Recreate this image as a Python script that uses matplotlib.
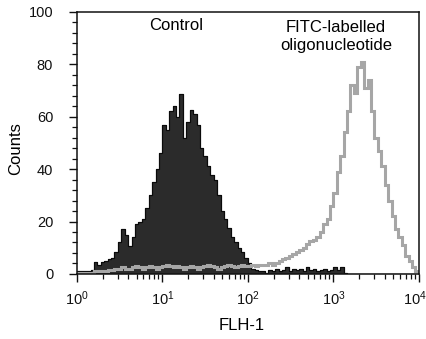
import numpy as np
import matplotlib
matplotlib.use("Agg")
import matplotlib.pyplot as plt
from matplotlib.ticker import MultipleLocator, LogLocator, FixedLocator
import matplotlib.transforms as mtrans

plt.rcParams['font.family'] = ['Liberation Sans', 'DejaVu Sans']

# log10 bin width 0.04 over four decades (100 channels)
bin_log_width = 0.04
n_bins = 100

control_counts = [
    1, 1, 1, 1.2, 1.5, 4.5, 3.5, 4.5, 5, 5.5,
    6, 8.5, 12, 17, 15, 10.5, 14, 19, 20, 21,
    25, 30, 35, 40, 46, 57, 55, 62, 64, 60,
    68.5, 52, 58, 62.5, 61, 57, 48, 45, 41, 37.8,
    36, 30, 24, 21, 17.5, 14, 12, 10, 8.5, 6,
    4, 2, 1.5, 1, 1, 0.5, 1.5, 1, 2, 1,
    1.5, 2.5, 1, 2, 1.5, 2, 1, 2.5, 1.5, 2,
    1, 1.5, 2, 1, 1.5, 2.5, 1.5, 2.5, 0.5, 0,
    0, 0, 0, 0, 0, 0, 0, 0, 0, 0,
    0, 0, 0, 0, 0, 0, 0, 0, 0, 0,
]

fitc_counts = [
    0.3, 0.3, 0.5, 0.5, 0.5, 1, 1, 1.2, 1, 1.5,
    1.5, 2, 2, 2.5, 2, 2, 2.5, 3, 2.5, 2,
    2.5, 3, 2.5, 2, 2.5, 3, 3.5, 3, 2.5, 3,
    2.5, 2, 2.5, 3, 2.5, 2, 2.5, 3, 3.5, 3,
    2.5, 2, 2.5, 3, 3.5, 3, 2.5, 3, 3.5, 3,
    3, 3.5, 3, 3.5, 3.5, 3.5, 4, 3.5, 4, 5,
    5.5, 6, 7, 7.5, 8.5, 9, 10, 11.5, 12.5, 13,
    14, 16, 19, 21, 26, 31, 39, 45, 54, 62,
    72, 69, 79, 81, 71, 74, 62, 52, 47, 41,
    34, 28, 22, 17, 14, 11, 7, 5, 2.5, 1,
]

x_tick_values = [1, 10, 100, 1000, 10000]
x_tick_labels = [r'$\mathregular{10^0}$', r'$\mathregular{10^1}$',
                 r'$\mathregular{10^2}$', r'$\mathregular{10^3}$',
                 r'$\mathregular{10^4}$']
y_tick_values = [0, 20, 40, 60, 80, 100]

edges = 10 ** (np.arange(n_bins + 1) * bin_log_width)

fig = plt.figure(figsize=(4.27, 3.39), dpi=100)
ax = fig.add_axes([0.180, 0.192, 0.801, 0.773])

ax.stairs(control_counts, edges, fill=True, facecolor='#2b2b2b',
          edgecolor='#111111', linewidth=0.8, baseline=0)
ax.stairs(control_counts, edges, color='#0a0a0a', linewidth=0.8)
ax.stairs(fitc_counts, edges, color='#a6a6a6', linewidth=2.2)

ax.set_xscale('log')
ax.set_xlim(1, 10000)
ax.set_ylim(0, 100)

ax.xaxis.set_major_locator(FixedLocator(x_tick_values))
ax.set_xticklabels(x_tick_labels)
ax.xaxis.set_minor_locator(LogLocator(base=10, subs=np.arange(2, 10)))
ax.xaxis.set_minor_formatter(plt.NullFormatter())
ax.set_yticks(y_tick_values)
ax.yaxis.set_minor_locator(MultipleLocator(4))

ax.tick_params(which='major', direction='out', length=6, width=1.0,
               labelsize=10.5, colors='#111111')
ax.tick_params(which='minor', direction='out', length=3.5, width=0.9,
               colors='#111111')
ax.tick_params(axis='x', which='major', pad=5)
ax.tick_params(axis='y', which='major', pad=11)
for s in ax.spines.values():
    s.set_linewidth(1.1)
    s.set_color('#111111')

# nudge the last x tick label inward so it stays inside the figure
last = ax.get_xticklabels()[-1]
last.set_transform(last.get_transform() +
                   mtrans.ScaledTranslation(-4 / 100, 0, fig.dpi_scale_trans))

fig.text(16 / 427, 1 - 149 / 339, 'Counts', rotation=90, ha='center',
         va='center', fontsize=12)
fig.text(242 / 427, 1 - 325 / 339, 'FLH-1', ha='center', va='center',
         fontsize=12)

ax.text(0.289, 0.947, 'Control', transform=ax.transAxes, ha='center',
        va='center', fontsize=12)
ax.text(0.757, 0.905, 'FITC-labelled\noligonucleotide', transform=ax.transAxes,
        ha='center', va='center', fontsize=12, linespacing=1.25)

fig.savefig('out.png', dpi=100)
